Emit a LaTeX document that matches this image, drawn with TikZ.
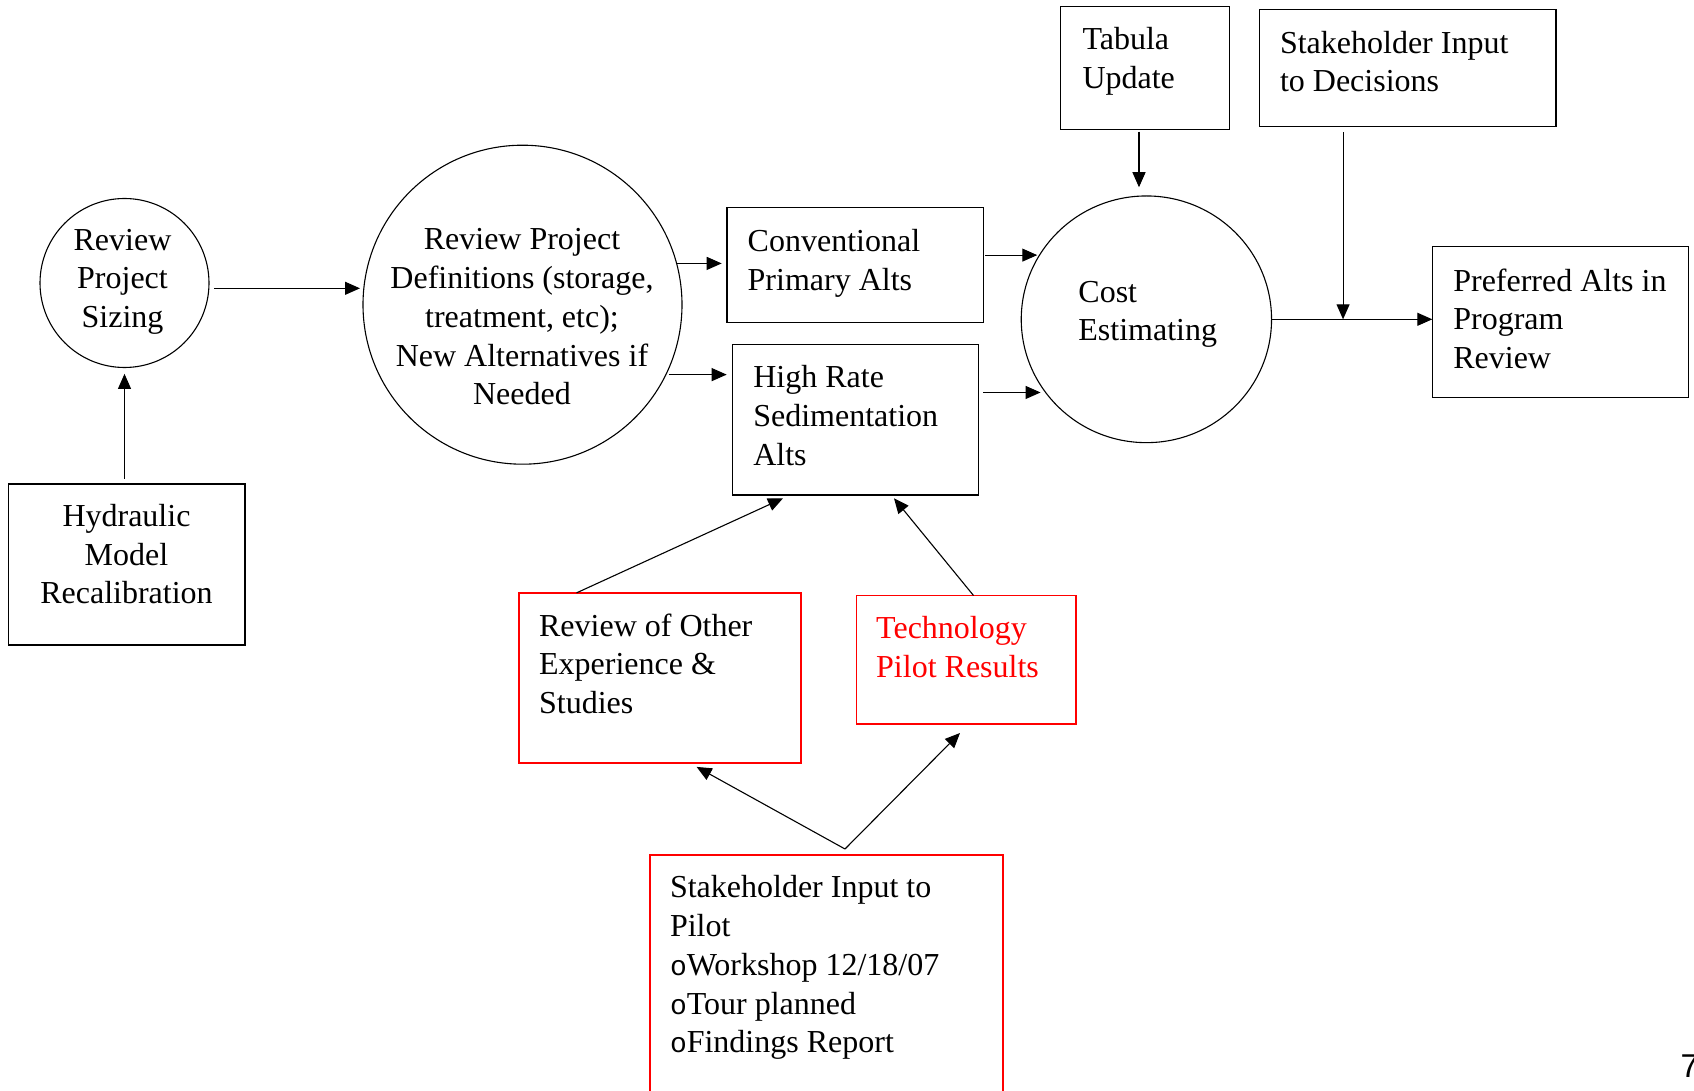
\documentclass[tikz,border=0pt]{standalone}
\usepackage{fontspec}
\setmainfont{Liberation Serif}
\newfontfamily\bulfont{Liberation Mono}
\newfontfamily\pgnfont{Liberation Sans}
\usetikzlibrary{arrows.meta,shapes.geometric}
\newcommand{\mybul}{{\bulfont\fontsize{14}{19.4}\selectfont o}}
\begin{document}
\begin{tikzpicture}[x=0.5pt,y=-0.5pt,
  every node/.style={inner sep=0pt,outer sep=0pt},
  txt/.style={font={\fontsize{16}{19.4}\selectfont}, align=left, anchor=north west},
  ctxt/.style={font={\fontsize{16}{19.4}\selectfont}, align=center, anchor=north},
  box/.style={draw, line width=0.7pt, rectangle, anchor=north west},
  redbox/.style={draw=red, line width=0.9pt, rectangle, anchor=north west},
  circ/.style={draw, line width=0.55pt, circle},
  arr/.style={-{Triangle[length=7.5pt,width=6.5pt]}, line width=0.55pt},
]
\path[use as bounding box, fill=white] (0,0) rectangle (1694,1091);
\clip (0,0) rectangle (1694,1091);

% nodes
\node[circ, minimum size=84.5pt] (siz) at (124.5,283) {};
\node[ctxt] (tsiz) at (122.5,229) {Review\\Project\\Sizing};
\node[box, minimum width=118.35pt, minimum height=80.5pt] (hyd) at (8.3,484) {};
\node[ctxt] (thyd) at (126.5,504) {Hydraulic\\Model\\Recalibration};
\node[circ, minimum size=159.5pt] (def) at (522.5,304.7) {};
\node[ctxt] (tdef) at (522,228.5) {Review Project\\Definitions (storage,\\treatment, etc);\\New Alternatives if\\Needed};
\node[box, minimum width=128.15pt, minimum height=57.3pt] (conv) at (727,207.7) {};
\node[txt] (tconv) at (747.7,229) {Conventional\\Primary Alts};
\node[box, minimum width=122.9pt, minimum height=75.25pt] (hr) at (732.5,344.5) {};
\node[txt] (thr) at (753.3,365.5) {High Rate\\Sedimentation\\Alts};
\node[box, minimum width=84.3pt, minimum height=61.3pt] (tab) at (1060.7,6.7) {};
\node[txt] (ttab) at (1082.5,27.5) {Tabula\\Update};
\node[box, minimum width=148.25pt, minimum height=58.65pt] (sdec) at (1259.5,9.5) {};
\node[txt] (tsdec) at (1280,31) {Stakeholder Input\\to Decisions};
\node[ellipse, draw, line width=0.55pt, minimum width=125.15pt, minimum height=123.35pt] (cost) at (1146.4,319.3) {};
\node[txt] (tcost) at (1078.4,281) {Cost\\Estimating};
\node[box, minimum width=128.2pt, minimum height=75.3pt] (pref) at (1432.3,246.7) {};
\node[txt] (tpref) at (1453.3,268.5) {Preferred Alts in\\Program\\Review};
\node[redbox, minimum width=141.2pt, minimum height=85pt] (rev) at (518.6,592.9) {};
\node[txt] (trev) at (539.1,613.5) {Review of Other\\Experience \&\\Studies};
\node[redbox, minimum width=109.75pt, minimum height=64.25pt] (tech) at (856.5,595.5) {};
\node[txt, text=red] (ttech) at (876.2,616.5) {Technology\\Pilot Results};
\node[redbox, minimum width=176.5pt, minimum height=140pt] (pilot) at (650,855) {};
\node[txt] (tpilot) at (670,875.5) {Stakeholder Input to\\Pilot\\\mybul Workshop 12/18/07\\\mybul Tour planned\\\mybul Findings Report};
\node[font={\pgnfont\fontsize{16.5}{19}\selectfont}, anchor=base west] (pg) at (1680.6,1077) {7};

% connectors
\draw[arr, shorten <=2.5pt, shorten >=3.2pt] (siz |- hyd.north) -- (siz.south);
\draw[arr, shorten <=2.65pt, shorten >=1.5pt] ([yshift=-2.65pt]siz.east) -- ([yshift=-2.65pt]siz.east -| def.west);
\draw[arr, shorten >=2.65pt] (def.15) -- (def.15 -| conv.west);
\draw[arr, shorten <=1.5pt, shorten >=2.9pt] (def.-26) -- (def.-26 -| hr.west);
\draw[arr, shorten <=0.85pt, shorten >=1.15pt] (conv.east |- cost.149) -- (cost.149);
\draw[arr, shorten <=2.35pt, shorten >=2.55pt] (hr.east |- cost.216) -- (cost.216);
\draw[arr, shorten <=1.2pt, shorten >=4.35pt] ([xshift=-3pt]tab.south) -- ([xshift=-3pt]tab.south |- cost.north);
\draw[arr] (cost.east) -- (cost.east -| pref.west);
\draw[arr, shorten <=2.75pt] ([xshift=-32.35pt]sdec.south) -- ([xshift=-32.35pt]sdec.south |- cost.east);
\draw[arr] ([xshift=28.95pt]rev.north west) -- ([xshift=25.25pt,yshift=-1.65pt]hr.south west);
\draw[arr] ([xshift=58.5pt]tech.north west) -- ([xshift=80.75pt,yshift=-1.65pt]hr.south west);
\coordinate (split) at ([xshift=97.5pt,yshift=3pt]pilot.north west);
\draw[arr] (split) -- ([xshift=89pt,yshift=-2pt]rev.south west);
\draw[arr] (split) -- ([xshift=51.75pt,yshift=-4.5pt]tech.south west);
\end{tikzpicture}
\end{document}
